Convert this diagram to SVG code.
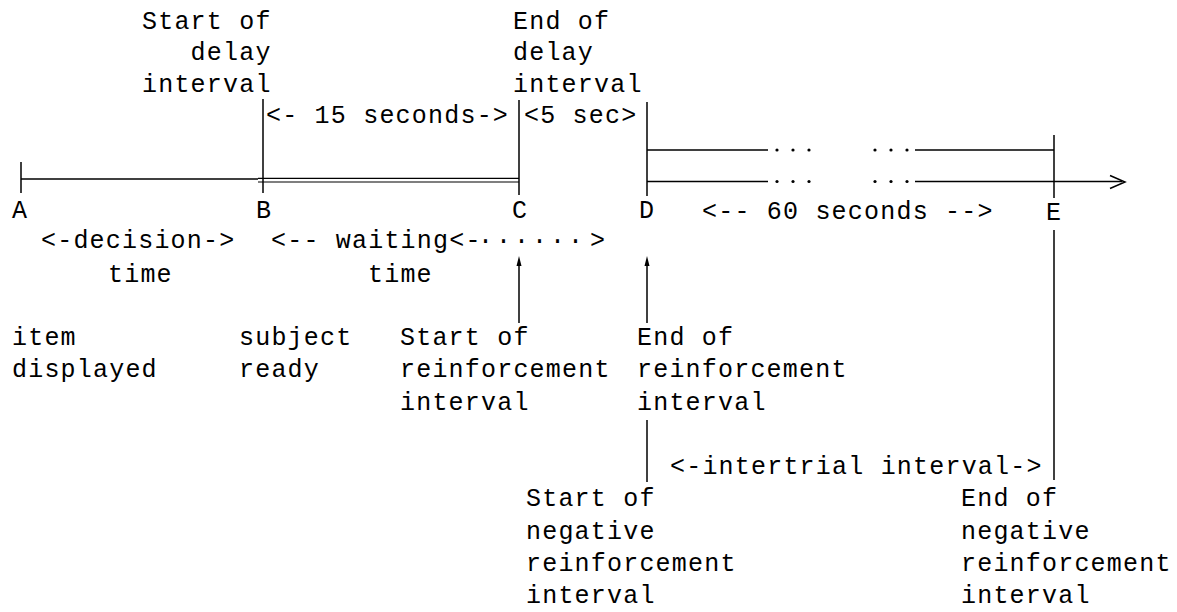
<svg xmlns="http://www.w3.org/2000/svg" width="1177" height="612" viewBox="0 0 1177 612">
<style>
text { font-family: "Liberation Mono", "Courier New", monospace; font-size: 25px; letter-spacing: 1.2px; fill: #000; }
.ln { stroke: #000; stroke-width: 1.5; fill: none; }
.thin { stroke: #000; stroke-width: 1.2; fill: none; }
.dot { fill: #000; }
.head { fill: #000; stroke: none; }
</style>
<rect width="1177" height="612" fill="#fff"/>
<g id="connectors">
  <path class="ln" d="M21 162 V193"/>
  <path class="ln" d="M21 179 H258"/>
  <path class="ln" d="M263 99 V193"/>
  <path class="thin" d="M258 178.3 H519 M258 182 H519"/>
  <path class="ln" d="M519 100 V195"/>
  <path class="ln" d="M647 102 V196"/>
  <path class="ln" d="M647 150 H768 M915 150 H1054"/>
  <path class="ln" d="M647 181.5 H768 M915 181.5 H1122"/>
  <polyline class="ln" points="1110,175.5 1125,182 1110,188.5"/>
  <path class="ln" d="M1054 135 V198"/>
  <path class="ln" d="M1054 230 V480"/>
  <path class="ln" d="M519 323 V262"/>
  <polygon class="head" points="519,256 516.5,266 521.5,266"/>
  <path class="ln" d="M647 323 V262"/>
  <polygon class="head" points="647,256 644.5,266 649.5,266"/>
  <path class="ln" d="M647 420 V482"/>
  <g id="gap-dots">
    <circle class="dot" cx="777" cy="150" r="1.6"/><circle class="dot" cx="793" cy="150" r="1.6"/><circle class="dot" cx="809" cy="150" r="1.6"/>
    <circle class="dot" cx="875" cy="150" r="1.6"/><circle class="dot" cx="891" cy="150" r="1.6"/><circle class="dot" cx="907" cy="150" r="1.6"/>
    <circle class="dot" cx="777" cy="181.5" r="1.6"/><circle class="dot" cx="793" cy="181.5" r="1.6"/><circle class="dot" cx="809" cy="181.5" r="1.6"/>
    <circle class="dot" cx="875" cy="181.5" r="1.6"/><circle class="dot" cx="891" cy="181.5" r="1.6"/><circle class="dot" cx="907" cy="181.5" r="1.6"/>
  </g>
</g>
<g id="label-start-delay">
  <text x="142" y="29">Start of</text>
  <text x="190.6" y="60">delay</text>
  <text x="142" y="92">interval</text>
</g>
<g id="label-end-delay">
  <text x="513" y="29">End of</text>
  <text x="513" y="60">delay</text>
  <text x="513" y="92">interval</text>
</g>
<g id="label-15s"><text x="266" y="123">&lt;- 15 seconds-&gt;</text></g>
<g id="label-5s"><text x="524" y="123">&lt;5 sec&gt;</text></g>
<g id="point-A"><text x="12" y="218">A</text></g>
<g id="point-B"><text x="256" y="218">B</text></g>
<g id="point-C"><text x="512" y="218">C</text></g>
<g id="point-D"><text x="639" y="218">D</text></g>
<g id="point-E"><text x="1046" y="220">E</text></g>
<g id="label-60s"><text x="702" y="219">&lt;-- 60 seconds --&gt;</text></g>
<g id="label-decision">
  <text x="41" y="248">&lt;-decision-&gt;</text>
  <text x="108" y="282">time</text>
</g>
<g id="label-waiting">
  <text x="271" y="248">&lt;-- waiting&lt;-</text>
  <text x="478 496 514 532 550 568" y="248">······</text>
  <text x="590" y="248">&gt;</text>
  <text x="368" y="282">time</text>
</g>
<g id="label-item">
  <text x="12" y="345">item</text>
  <text x="12" y="377">displayed</text>
</g>
<g id="label-subject">
  <text x="239" y="345">subject</text>
  <text x="239" y="377">ready</text>
</g>
<g id="label-start-reinf">
  <text x="400" y="345">Start of</text>
  <text x="400" y="377">reinforcement</text>
  <text x="400" y="410">interval</text>
</g>
<g id="label-end-reinf">
  <text x="637" y="345">End of</text>
  <text x="637" y="377">reinforcement</text>
  <text x="637" y="410">interval</text>
</g>
<g id="label-intertrial"><text x="670" y="474">&lt;-intertrial interval-&gt;</text></g>
<g id="label-start-neg">
  <text x="526" y="506">Start of</text>
  <text x="526" y="539">negative</text>
  <text x="526" y="571">reinforcement</text>
  <text x="526" y="603">interval</text>
</g>
<g id="label-end-neg">
  <text x="961" y="506">End of</text>
  <text x="961" y="539">negative</text>
  <text x="961" y="571">reinforcement</text>
  <text x="961" y="603">interval</text>
</g>
</svg>
